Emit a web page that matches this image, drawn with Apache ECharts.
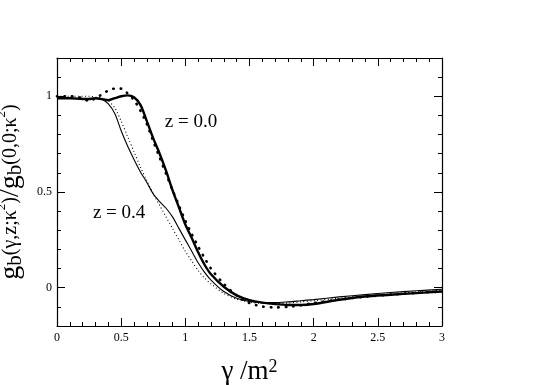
<!DOCTYPE html>
<html>
<head>
<meta charset="utf-8">
<script src="https://cdn.jsdelivr.net/npm/echarts@6/dist/echarts.min.js"></script>
<style>
html,body{margin:0;padding:0;background:#fff;}
#c{width:545px;height:385px;}
</style>
</head>
<body>
<div id="c"></div>
<script>
// shared gamma/m^2 grid
var gammaX = [0,0.1,0.2,0.25,0.3,0.35,0.4,0.45,0.5,0.55,0.6,0.65,0.7,0.75,0.8,0.85,0.9,0.95,1.0,1.05,1.1,1.15,1.2,1.3,1.4,1.5,1.6,1.7,1.8,1.9,2.0,2.2,2.4,2.6,2.8,3.0];
// z = 0.0, thick solid
var z00Solid = [0.99,0.99,0.985,0.985,0.99,0.985,0.98,0.99,1.0,1.005,0.995,0.955,0.87,0.78,0.70,0.61,0.51,0.42,0.33,0.26,0.185,0.12,0.07,0.005,-0.04,-0.065,-0.078,-0.086,-0.09,-0.09,-0.085,-0.063,-0.046,-0.037,-0.028,-0.02];
// z = 0.0, thick dotted
var z00Dotted = [1.0,1.0,0.99,0.975,0.99,1.01,1.03,1.04,1.04,1.015,0.98,0.925,0.855,0.765,0.68,0.595,0.51,0.43,0.35,0.28,0.215,0.155,0.1,0.02,-0.04,-0.08,-0.098,-0.103,-0.1,-0.092,-0.08,-0.062,-0.047,-0.036,-0.027,-0.02];
// z = 0.4, thin solid
var z04Solid = [0.99,0.99,0.99,0.99,0.99,0.985,0.96,0.91,0.82,0.74,0.67,0.605,0.55,0.49,0.45,0.415,0.37,0.31,0.25,0.19,0.13,0.08,0.04,-0.02,-0.055,-0.072,-0.078,-0.078,-0.074,-0.068,-0.062,-0.048,-0.036,-0.025,-0.016,-0.008];
// z = 0.4, thin dotted
var z04Dotted = [1.0,1.0,1.0,1.0,0.995,0.99,0.975,0.94,0.87,0.79,0.71,0.63,0.56,0.49,0.43,0.37,0.31,0.25,0.19,0.14,0.09,0.05,0.02,-0.03,-0.06,-0.075,-0.082,-0.083,-0.08,-0.074,-0.068,-0.055,-0.042,-0.032,-0.022,-0.013];

var yMajor = [0, 0.5, 1];
var yMinor = [-0.1, 0.1, 0.2, 0.3, 0.4, 0.6, 0.7, 0.8, 0.9, 1.1];
var annotations = [
  {text: 'z = 0.0', x: 0.84, y: 0.865},
  {text: 'z = 0.4', x: 0.28, y: 0.39}
];

function pairs(ys){ return gammaX.map(function(x,i){ return [x, ys[i]]; }); }

var FONT = 'Liberation Serif';
var chart = echarts.init(document.getElementById('c'), null, {renderer:'canvas'});

function yAx(pos, ticks, len, showLine, showLabel, extra){
  var a = {
    type:'value', position: pos, min:-0.2, max:1.2,
    axisLine:{show:showLine, onZero:false, lineStyle:{color:'#000', width:1.2}},
    axisTick:{show:true, inside:true, length:len, customValues:ticks, lineStyle:{color:'#000', width:1}},
    axisLabel:{show:showLabel, customValues:ticks, color:'#000', fontFamily:FONT, fontSize:12, margin:5,
      formatter:function(v){ return String(v); }},
    splitLine:{show:false}
  };
  if (extra) for (var k in extra) a[k] = extra[k];
  return a;
}
function xAx(pos, showLabel){
  return {
    type:'value', position: pos, min:0, max:3, interval:0.5,
    axisLine:{show:true, onZero:false, lineStyle:{color:'#000', width:1.2}},
    axisTick:{show:true, inside:true, length:8, lineStyle:{color:'#000', width:1}},
    minorTick:{show:true, splitNumber:5, length:4, lineStyle:{color:'#000', width:1}},
    axisLabel:{show:showLabel, color:'#000', fontFamily:FONT, fontSize:12, margin:6,
      formatter:function(v){ return String(v); }},
    splitLine:{show:false}, minorSplitLine:{show:false}
  };
}

var xMain = xAx('bottom', true);
xMain.name = '{a|γ /m}{s|2}';
xMain.nameLocation = 'middle';
xMain.nameGap = 32;
xMain.nameTextStyle = {fontFamily:FONT, color:'#000',
  rich:{a:{fontFamily:FONT, fontSize:27, color:'#000', verticalAlign:'bottom'},
        s:{fontFamily:FONT, fontSize:18, color:'#000', verticalAlign:'top'}}};

var yMain = yAx('left', yMajor, 8, true, true, {
  name: '{g|g}{b|b}{p|(γ,z;κ}{s|2}{p|)}{g|/g}{b|b}{p|(0,0;κ}{s|2}{p|)}',
  nameLocation:'middle', nameRotate:90, nameGap:24,
  nameTextStyle:{fontFamily:FONT, color:'#000',
    rich:{
      g:{fontFamily:FONT, fontSize:28, color:'#000', verticalAlign:'middle'},
      b:{fontFamily:FONT, fontSize:21, color:'#000', verticalAlign:'bottom', padding:[10,0,0,0]},
      p:{fontFamily:FONT, fontSize:20, color:'#000', verticalAlign:'middle'},
      s:{fontFamily:FONT, fontSize:13, color:'#000', verticalAlign:'top'}
    }}
});

var option = {
  animation:false,
  backgroundColor:'#fff',
  grid:{left:57, right:103, top:58, bottom:59, containLabel:false, outerBoundsMode:'none'},
  xAxis:[xMain, xAx('top', false)],
  yAxis:[
    yMain,
    yAx('left', yMinor, 4, false, false),
    yAx('right', yMajor, 8, true, false),
    yAx('right', yMinor, 4, false, false)
  ],
  series:[
    {type:'line', data:pairs(z04Dotted), smooth:0.3, showSymbol:false, xAxisIndex:0, yAxisIndex:0,
      lineStyle:{color:'#000', width:1.1, type:[1,2.5]}},
    {type:'line', data:pairs(z00Dotted), smooth:0.3, showSymbol:false, xAxisIndex:0, yAxisIndex:0,
      lineStyle:{color:'#000', width:2.6, type:[0.5,7], cap:'round'}},
    {type:'line', data:pairs(z04Solid), smooth:0.3, showSymbol:false, xAxisIndex:0, yAxisIndex:0,
      lineStyle:{color:'#000', width:1.1}},
    {type:'line', data:pairs(z00Solid), smooth:0.3, showSymbol:false, xAxisIndex:0, yAxisIndex:0,
      lineStyle:{color:'#000', width:2.4}}
  ]
};
chart.setOption(option);

var g = annotations.map(function(a){
  var p = chart.convertToPixel({xAxisIndex:0, yAxisIndex:0}, [a.x, a.y]);
  return {type:'text', x:p[0], y:p[1],
    style:{text:a.text, fontFamily:FONT, fontSize:19, fill:'#000', textAlign:'left', textVerticalAlign:'middle'}};
});
chart.setOption({graphic:g});
</script>
</body>
</html>
